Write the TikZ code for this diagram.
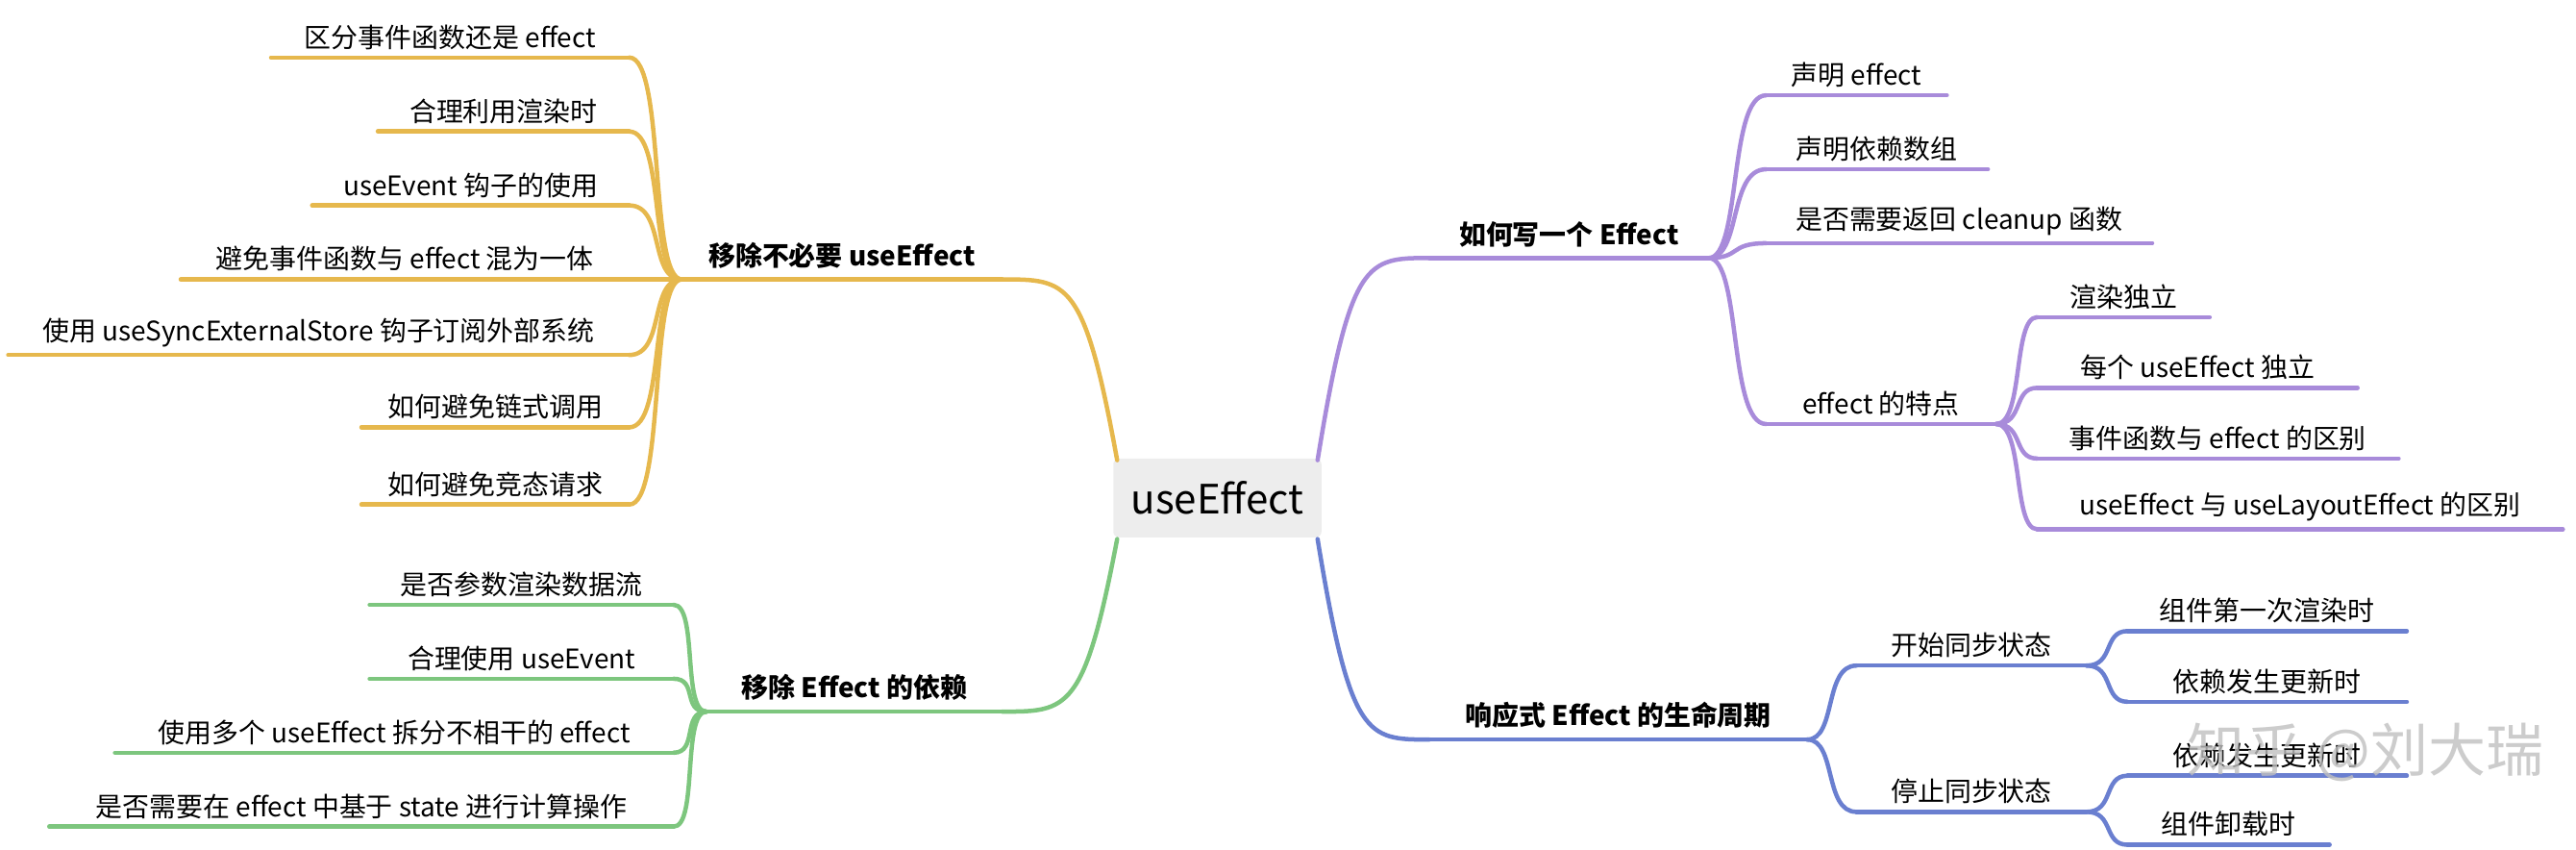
\documentclass[tikz,border=0pt]{standalone}
\usepackage{fontspec}
\setmainfont{Noto Sans CJK SC}
\begin{document}
\begin{tikzpicture}[x=0.02cm,y=-0.02cm,
  ln/.style={line width=1.5pt,line cap=round},
  yel/.style={ln,draw={rgb,255:red,230;green,184;blue,77}},
  grn/.style={ln,draw={rgb,255:red,125;green,198;blue,126}},
  pur/.style={ln,draw={rgb,255:red,168;green,139;blue,218}},
  blu/.style={ln,draw={rgb,255:red,106;green,127;blue,208}},
  lbl/.style={anchor=south,inner sep=2pt,font=\fontsize{9.3}{11}\selectfont},
  mlbl/.style={anchor=south,inner sep=3pt,font=\fontsize{9.3}{11}\selectfont\bfseries}]
\useasboundingbox (0,0) rectangle (1568,517);
\node[fill=black!7,rounded corners=2pt,text width=2.3cm,align=center,minimum height=0.96cm,font=\fontsize{14}{16}\selectfont] (c) at (741,303) {useEffect};
% main branches
\coordinate (yh) at (415,170); \coordinate (ye) at (610,170);
\coordinate (gh) at (430,433); \coordinate (ge) at (610,433);
\coordinate (ph) at (1040,157); \coordinate (ps) at (870,157);
\coordinate (bh) at (1100,450); \coordinate (bs) at (870,450);
\draw[yel] (680,280) .. controls (660,170) and (650,170) .. (ye);
\draw[yel] (ye) -- (yh) node[mlbl,midway] (ym) {移除不必要 useEffect};
\draw[grn] (680,328) .. controls (660,433) and (650,433) .. (ge);
\draw[grn] (ge) -- (gh) node[mlbl,midway] (gm) {移除 Effect 的依赖};
\draw[pur] (802,280) .. controls (822,157) and (832,157) .. (ps);
\draw[pur] (ps) -- (ph) node[mlbl,midway] (pm) {如何写一个 Effect};
\draw[blu] (802,328) .. controls (822,450) and (832,450) .. (bs);
\draw[blu] (bs) -- (bh) node[mlbl,midway] (bm) {响应式 Effect 的生命周期};
% yellow children
\foreach \i/\xs/\y/\t in {1/165/35/区分事件函数还是 effect,2/230/80/合理利用渲染时,3/190/125/useEvent 钩子的使用,4/110/170/避免事件函数与 effect 混为一体,5/5/216/使用 useSyncExternalStore 钩子订阅外部系统,6/220/260/如何避免链式调用,7/220/307/如何避免竞态请求}{
  \coordinate (y\i) at (383,\y);
  \draw[yel] (\xs,\y) -- (y\i) node[lbl,midway] (yt\i) {\t};
  \draw[yel] (y\i) .. controls (405,\y) and (395,170) .. (yh);
}
% green children
\foreach \i/\xs/\y/\t in {1/225/368/是否参数渲染数据流,2/225/413/合理使用 useEvent,3/70/458/使用多个 useEffect 拆分不相干的 effect,4/30/503/是否需要在 effect 中基于 state 进行计算操作}{
  \coordinate (g\i) at (410,\y);
  \draw[grn] (\xs,\y) -- (g\i) node[lbl,midway] (gt\i) {\t};
  \draw[grn] (g\i) .. controls (425,\y) and (415,433) .. (gh);
}
% purple children
\foreach \i/\xe/\y/\t in {1/1185/58/声明 effect,2/1210/103/声明依赖数组,3/1310/148/是否需要返回 cleanup 函数,4/1215/258/effect 的特点}{
  \coordinate (p\i) at (1075,\y);
  \draw[pur] (p\i) -- (\xe,\y) node[lbl,midway] (pt\i) {\t};
  \draw[pur] (ph) .. controls (1060,157) and (1052,\y) .. (p\i);
}
\coordinate (ph2) at (1215,258);
\foreach \i/\xe/\y/\t in {1/1345/193/渲染独立,2/1435/236/每个 useEffect 独立,3/1460/279/事件函数与 effect 的区别,4/1560/322/useEffect 与 useLayoutEffect 的区别}{
  \coordinate (q\i) at (1240,\y);
  \draw[pur] (q\i) -- (\xe,\y) node[lbl,midway] (qt\i) {\t};
  \draw[pur] (ph2) .. controls (1232,258) and (1225,\y) .. (q\i);
}
% blue children
\foreach \i/\y/\t in {1/405/开始同步状态,2/494/停止同步状态}{
  \coordinate (b\i) at (1130,\y); \coordinate (bh\i) at (1270,\y);
  \draw[blu] (b\i) -- (bh\i) node[lbl,midway] (bt\i) {\t};
  \draw[blu] (bh) .. controls (1118,450) and (1110,\y) .. (b\i);
}
\foreach \i/\h/\hy/\xe/\y/\t in {1/bh1/405/1465/384/组件第一次渲染时,2/bh1/405/1465/427/依赖发生更新时,3/bh2/494/1465/472/依赖发生更新时,4/bh2/494/1418/514/组件卸载时}{
  \coordinate (r\i) at (1295,\y);
  \draw[blu] (r\i) -- (\xe,\y) node[lbl,midway] (rt\i) {\t};
  \draw[blu] (\h) .. controls (1287,\hy) and (1280,\y) .. (r\i);
}
\node[text=black!25,font=\fontsize{20}{22}\selectfont,opacity=0.8] (wm) at (1440,458) {知乎 @刘大瑞};
\end{tikzpicture}
\end{document}
